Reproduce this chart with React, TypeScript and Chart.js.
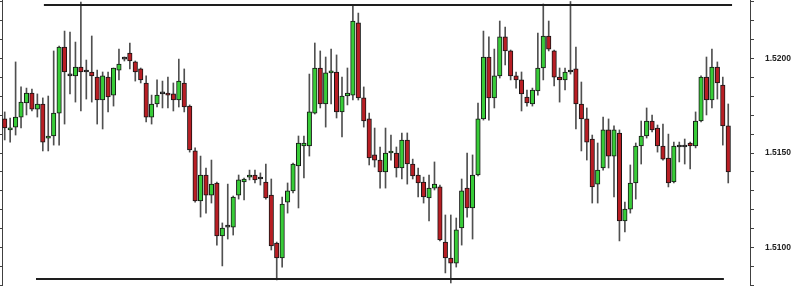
import React, { useEffect, useRef } from 'react';
import { Chart, registerables } from 'chart.js';

Chart.register(...registerables);

// OHLC price series (one entry per candle)
const openP = [
  1.51680, 1.51622, 1.51637, 1.51690, 1.51764, 1.51817, 1.51732, 1.51759, 1.51579, 1.51590,
  1.51711, 1.52060, 1.51907, 1.51907, 1.51954, 1.51928, 1.51928, 1.51901, 1.51780, 1.51901,
  1.51806, 1.51938, 1.51996, 1.52028, 1.51981, 1.51944, 1.51870, 1.51690, 1.51759, 1.51812,
  1.51817, 1.51812, 1.51780, 1.51870, 1.51748, 1.51511, 1.51247, 1.51384, 1.51278, 1.51342,
  1.51062, 1.51109, 1.51109, 1.51278, 1.51347, 1.51373, 1.51384, 1.51363, 1.51347, 1.51278,
  1.51025, 1.50946, 1.51241, 1.51300, 1.51432, 1.51537, 1.51537, 1.51711, 1.51949, 1.51759,
  1.51923, 1.51928, 1.51717, 1.51801, 1.51806, 1.52187, 1.51791, 1.51680, 1.51490, 1.51463,
  1.51400, 1.51500, 1.51500, 1.51421, 1.51569, 1.51442, 1.51384, 1.51347, 1.51263, 1.51315,
  1.51321, 1.51030, 1.50946, 1.50919, 1.51104, 1.51315, 1.51210, 1.51384, 1.51680, 1.52007,
  1.51791, 1.51907, 1.52113, 1.52039, 1.51907, 1.51886, 1.51796, 1.51759, 1.51828, 1.51949,
  1.52118, 1.52039, 1.51901, 1.51886, 1.51928, 1.51944, 1.51759, 1.51680, 1.51574, 1.51336,
  1.51421, 1.51622, 1.51484, 1.51606, 1.51141, 1.51204, 1.51342, 1.51537, 1.51590, 1.51669,
  1.51632, 1.51537, 1.51474, 1.51347, 1.51532, 1.51532, 1.51553, 1.51537, 1.51669, 1.51901,
  1.51780, 1.51954, 1.51859, 1.51643,
];

const highP = [
  1.51717, 1.51685, 1.51981, 1.51849, 1.51843, 1.51838, 1.51812, 1.51791, 1.51801, 1.52039,
  1.52065, 1.52144, 1.52139, 1.52086, 1.52297, 1.51991, 1.52118, 1.51938, 1.51928, 1.51928,
  1.51949, 1.52049, 1.52007, 1.52081, 1.51986, 1.51949, 1.51907, 1.51806, 1.51886, 1.51880,
  1.51901, 1.51870, 1.51996, 1.51944, 1.51754, 1.51527, 1.51484, 1.51421, 1.51463, 1.51347,
  1.51131, 1.51336, 1.51273, 1.51384, 1.51368, 1.51410, 1.51410, 1.51395, 1.51442, 1.51363,
  1.51030, 1.51268, 1.51342, 1.51447, 1.51590, 1.51590, 1.51917, 1.52081, 1.52039, 1.52007,
  1.52049, 1.52018, 1.51901, 1.51949, 1.52282, 1.52239, 1.51849, 1.51711, 1.51632, 1.51532,
  1.51632, 1.51595, 1.51532, 1.51606, 1.51606, 1.51468, 1.51421, 1.51373, 1.51384, 1.51453,
  1.51331, 1.51173, 1.51173, 1.51157, 1.51363, 1.51500, 1.51490, 1.51764, 1.52144, 1.52113,
  1.52049, 1.52197, 1.52165, 1.52044, 1.51928, 1.51928, 1.51833, 1.51843, 1.52134, 1.52287,
  1.52197, 1.52044, 1.51949, 1.51949, 1.52300, 1.52060, 1.51875, 1.51738, 1.51595, 1.51553,
  1.51690, 1.51680, 1.51643, 1.51622, 1.51241, 1.51437, 1.51553, 1.51669, 1.51738, 1.51701,
  1.51648, 1.51653, 1.51600, 1.51558, 1.51558, 1.51574, 1.51558, 1.51717, 1.51907, 1.52007,
  1.52049, 1.51981, 1.51901, 1.51759,
];

const lowP = [
  1.51569, 1.51558, 1.51595, 1.51632, 1.51701, 1.51722, 1.51690, 1.51511, 1.51511, 1.51542,
  1.51542, 1.51653, 1.51812, 1.51769, 1.51722, 1.51785, 1.51769, 1.51653, 1.51627, 1.51717,
  1.51748, 1.51886, 1.51986, 1.51944, 1.51880, 1.51870, 1.51664, 1.51653, 1.51743, 1.51738,
  1.51738, 1.51722, 1.51743, 1.51717, 1.51505, 1.51241, 1.51162, 1.51183, 1.51236, 1.51014,
  1.50904, 1.51046, 1.51067, 1.51257, 1.51252, 1.51358, 1.51342, 1.51331, 1.51257, 1.50988,
  1.50830, 1.50898, 1.51183, 1.51289, 1.51210, 1.51368, 1.51484, 1.51706, 1.51738, 1.51637,
  1.51759, 1.51685, 1.51585, 1.51754, 1.51780, 1.51780, 1.51637, 1.51437, 1.51426, 1.51315,
  1.51315, 1.51463, 1.51373, 1.51363, 1.51336, 1.51363, 1.51268, 1.51236, 1.51141, 1.51305,
  1.51036, 1.50867, 1.50814, 1.50898, 1.51014, 1.51162, 1.51046, 1.51379, 1.51674, 1.51674,
  1.51738, 1.51896, 1.51965, 1.51886, 1.51843, 1.51722, 1.51748, 1.51748, 1.51806, 1.51886,
  1.52039, 1.51854, 1.51769, 1.51833, 1.51917, 1.51627, 1.51511, 1.51463, 1.51236, 1.51236,
  1.51410, 1.51421, 1.51268, 1.51036, 1.51083, 1.51183, 1.51257, 1.51442, 1.51579, 1.51611,
  1.51505, 1.51463, 1.51321, 1.51342, 1.51453, 1.51442, 1.51416, 1.51527, 1.51664, 1.51701,
  1.51738, 1.51785, 1.51542, 1.51342,
];

const closeP = [
  1.51632, 1.51632, 1.51690, 1.51769, 1.51817, 1.51732, 1.51759, 1.51558, 1.51585, 1.51711,
  1.52060, 1.51928, 1.51907, 1.51954, 1.51928, 1.51928, 1.51907, 1.51780, 1.51907, 1.51796,
  1.51949, 1.51970, 1.51996, 1.51986, 1.51928, 1.51886, 1.51690, 1.51759, 1.51806, 1.51812,
  1.51806, 1.51780, 1.51880, 1.51743, 1.51516, 1.51247, 1.51384, 1.51278, 1.51336, 1.51062,
  1.51104, 1.51109, 1.51268, 1.51358, 1.51363, 1.51384, 1.51358, 1.51363, 1.51263, 1.51009,
  1.50946, 1.51231, 1.51300, 1.51442, 1.51553, 1.51553, 1.51717, 1.51949, 1.51759, 1.51923,
  1.51928, 1.51717, 1.51801, 1.51817, 1.52197, 1.51791, 1.51669, 1.51474, 1.51463, 1.51400,
  1.51500, 1.51505, 1.51421, 1.51569, 1.51442, 1.51379, 1.51342, 1.51268, 1.51315, 1.51336,
  1.51041, 1.50946, 1.50919, 1.51094, 1.51300, 1.51210, 1.51384, 1.51680, 1.52007, 1.51791,
  1.51907, 1.52113, 1.52039, 1.51907, 1.51886, 1.51812, 1.51764, 1.51833, 1.51949, 1.52118,
  1.52049, 1.51901, 1.51886, 1.51928, 1.51928, 1.51759, 1.51680, 1.51558, 1.51321, 1.51410,
  1.51622, 1.51484, 1.51622, 1.51141, 1.51204, 1.51342, 1.51537, 1.51590, 1.51669, 1.51622,
  1.51537, 1.51468, 1.51342, 1.51537, 1.51532, 1.51532, 1.51537, 1.51669, 1.51901, 1.51780,
  1.51954, 1.51870, 1.51643, 1.51400,
];

// Horizontal resistance / support levels (price, first candle index, last candle index)
const levelPrice = [1.52282, 1.50835];
const levelStart = [7.2, 5.75];
const levelEnd = [133.7, 132.2];

// Price axis
const priceMin = 1.50798;
const priceMax = 1.52308;
const priceStep = 0.001;

const GREEN = '#38cc38';
const RED = '#b81e24';

export default function App() {
  const ref = useRef<HTMLCanvasElement>(null);

  useEffect(() => {
    document.body.style.margin = '0';
    const canvas = ref.current;
    if (!canvas) return;

    const bodies = openP.map((o, i) => ({ x: i, y: [o, closeP[i]] }));
    const wicks = highP.map((h, i) => ({ x: i, y: [lowP[i], h] }));
    const colors = openP.map((o, i) =>
      closeP[i] > o ? GREEN : closeP[i] < o ? RED : '#555555'
    );

    const levelSets: any[] = levelPrice.map((p, k) => ({
      type: 'line',
      data: [
        { x: levelStart[k], y: p },
        { x: levelEnd[k], y: p },
      ],
      borderColor: '#1e1e1e',
      borderWidth: 2,
      pointRadius: 0,
      fill: false,
      order: -1,
    }));

    const chart = new Chart(canvas, {
      type: 'bar',
      data: {
        datasets: [
          ...levelSets,
          {
            type: 'bar',
            data: bodies as any,
            backgroundColor: colors,
            borderColor: '#151515',
            borderWidth: 1,
            borderSkipped: false,
            barThickness: 4.5,
            grouped: false,
            minBarLength: 2,
            order: 0,
          },
          {
            type: 'bar',
            data: wicks as any,
            backgroundColor: '#505050',
            borderWidth: 0,
            barThickness: 1,
            grouped: false,
            order: 1,
          },
        ],
      },
      options: {
        animation: false,
        responsive: false,
        maintainAspectRatio: false,
        layout: { padding: 0, autoPadding: false },
        plugins: {
          legend: { display: false },
          tooltip: { enabled: false },
        },
        scales: {
          x: {
            type: 'linear',
            min: -0.5,
            max: 137,
            display: false,
            offset: false,
          },
          y: {
            type: 'linear',
            position: 'right',
            min: priceMin,
            max: priceMax,
            afterFit: (s: any) => {
              s.width = 42;
              s.paddingTop = 0;
              s.paddingBottom = 0;
            },
            border: { display: true, color: '#404040', width: 1 },
            grid: {
              drawOnChartArea: false,
              drawTicks: true,
              tickLength: 4,
              color: '#404040',
            },
            ticks: {
              stepSize: priceStep,
              includeBounds: false,
              autoSkip: false,
              padding: 11,
              color: '#222222',
              font: { family: 'Liberation Sans', size: 8.5, weight: 'bold' },
              callback: (v: any) =>
                Math.round(Number(v) * 10000) % 50 === 0 ? Number(v).toFixed(4) : '',
            },
          },
          yl: {
            type: 'linear',
            position: 'left',
            min: priceMin,
            max: priceMax,
            afterFit: (s: any) => {
              s.width = 2;
              s.paddingTop = 0;
              s.paddingBottom = 0;
            },
            border: { display: true, color: '#404040', width: 1 },
            grid: {
              drawOnChartArea: false,
              drawTicks: true,
              tickLength: 2,
              color: '#404040',
            },
            ticks: {
              stepSize: priceStep,
              includeBounds: false,
              autoSkip: false,
              display: false,
            },
          },
        },
      } as any,
    });

    return () => chart.destroy();
  }, []);

  return (
    <div style={{ width: 792, height: 286, background: '#ffffff' }}>
      <canvas ref={ref} width={792} height={286} style={{ display: 'block' }} />
    </div>
  );
}
